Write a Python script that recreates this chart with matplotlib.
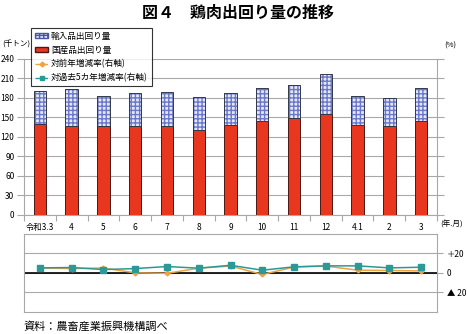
import matplotlib.pyplot as plt
from matplotlib.patches import Patch
from matplotlib.lines import Line2D
import numpy as np

plt.rcParams['font.family'] = ['Noto Sans CJK JP', 'DejaVu Sans']

# データ（千トン、%）
meses = ['令和3.3', '4', '5', '6', '7', '8', '9', '10', '11', '12', '4.1', '2', '3']
kokusan = [140, 137, 137, 137, 137, 131, 138, 145, 149, 155, 138, 137, 145]
total = [190, 193, 183, 187, 189, 181, 187, 196, 200, 217, 183, 180, 195]
yunyu = [t - k for t, k in zip(total, kokusan)]
zennen = [5.0, 4.4, 5.0, 0.0, -0.5, 4.8, 7.0, -1.7, 6.0, 7.0, 2.7, 2.4, 2.0]
kako5 = [5.1, 5.5, 3.4, 4.4, 6.5, 4.8, 7.8, 2.7, 6.2, 7.2, 7.2, 5.1, 5.8]

rojo = '#e8371e'
naranja = '#f0a23c'
verde = '#2b9a96'
gris = '#a8a8a8'

fig = plt.figure(figsize=(4.67, 3.34), dpi=100)
ax = fig.add_axes([0.0514, 0.357, 0.8844, 0.4664])
ax2 = fig.add_axes([0.0514, 0.0668, 0.8844, 0.2326])

x = np.arange(len(meses))
w = 0.39

# barras apiladas
ax.bar(x, kokusan, w, color=rojo, edgecolor='#4a1a14', linewidth=0.7, zorder=3)
ax.bar(x, yunyu, w, bottom=kokusan, color='#e4e8f8', edgecolor='#6b78c8',
       hatch='++++', linewidth=0, zorder=3)
ax.bar(x, yunyu, w, bottom=kokusan, fill=False, edgecolor='#33384a',
       linewidth=0.7, zorder=4)

ax.set_xlim(-0.5, len(meses) - 0.5)
ax.set_ylim(0, 240)
ax.set_yticks(range(0, 241, 30))
ax.yaxis.grid(True, color=gris, linewidth=0.8, zorder=0)
ax.set_axisbelow(True)
ax.tick_params(axis='y', labelsize=6, length=5, color=gris, width=0.8, pad=2)
ax.set_xticks(x)
ax.set_xticklabels(meses, fontsize=6)
ax.tick_params(axis='x', length=0, pad=6)
ax.set_xticks(np.arange(-0.5, len(meses), 1), minor=True)
ax.tick_params(axis='x', which='minor', length=4, color=gris, width=0.8)
for s in ['left', 'right', 'bottom']:
    ax.spines[s].set_color(gris)
    ax.spines[s].set_linewidth(0.8)
ax.spines['top'].set_visible(False)
axr = ax.twinx()
axr.set_ylim(0, 240)
axr.set_yticks(range(0, 241, 30))
axr.set_yticklabels([])
axr.tick_params(axis='y', length=5, color=gris, width=0.8)
for s in axr.spines.values():
    s.set_visible(False)

# lineas de tasas
ax2.plot(x, zennen, color=naranja, marker='D', markersize=2.5, linewidth=1.1, zorder=3)
ax2.plot(x, kako5, color=verde, marker='s', markersize=3.8, linewidth=1.1, zorder=4)
ax2.axhline(0, color='black', linewidth=1.2, zorder=2)
ax2.set_xlim(-0.5, len(meses) - 0.5)
ax2.set_ylim(-40, 40)
ax2.set_xticks([])
ax2.yaxis.tick_right()
ax2.set_yticks([-20, 0, 20])
ax2.set_yticklabels(['▲ 20', '0', '＋20'], fontsize=6)
ax2.tick_params(axis='y', length=4, color=gris, width=0.8, pad=3)
ax2.yaxis.grid(True, color=gris, linewidth=0.8, zorder=0)
for s in ax2.spines.values():
    s.set_color(gris)
    s.set_linewidth(0.8)

# textos
fig.text(0.51, 0.962, '図４　鶏肉出回り量の推移', ha='center', va='center',
         fontsize=11.5, fontweight='bold')
fig.text(0.004, 0.868, '(千トン)', fontsize=5.5, va='center')
fig.text(0.952, 0.863, '(%)', fontsize=5.5, va='center')
fig.text(0.943, 0.329, '(年.月)', fontsize=5.5, va='center')
fig.text(0.051, 0.022, '資料：農畜産業振興機構調べ', fontsize=8, va='center')

handles = [
    Patch(facecolor='#e4e8f8', edgecolor='#4a55a8', hatch='++++', label='輸入品出回り量'),
    Patch(facecolor=rojo, edgecolor='#4a1a14', label='国産品出回り量'),
    Line2D([], [], color=naranja, linestyle='--', marker='D', markersize=2.5,
           linewidth=1, label='対前年増減率(右軸)'),
    Line2D([], [], color=verde, linestyle='--', marker='s', markersize=3,
           linewidth=1, label='対過去5カ年増減率(右軸)'),
]
leg = fig.legend(handles=handles, loc='upper left', bbox_to_anchor=(0.066, 0.916),
                 fontsize=6.2, frameon=True, fancybox=False, edgecolor='black',
                 handlelength=1.6, handleheight=0.55, handletextpad=0.3,
                 labelspacing=0.55, borderpad=0.45, borderaxespad=0)
leg.get_frame().set_linewidth(0.8)
leg.set_zorder(10)

fig.savefig('out.png', dpi=100)
